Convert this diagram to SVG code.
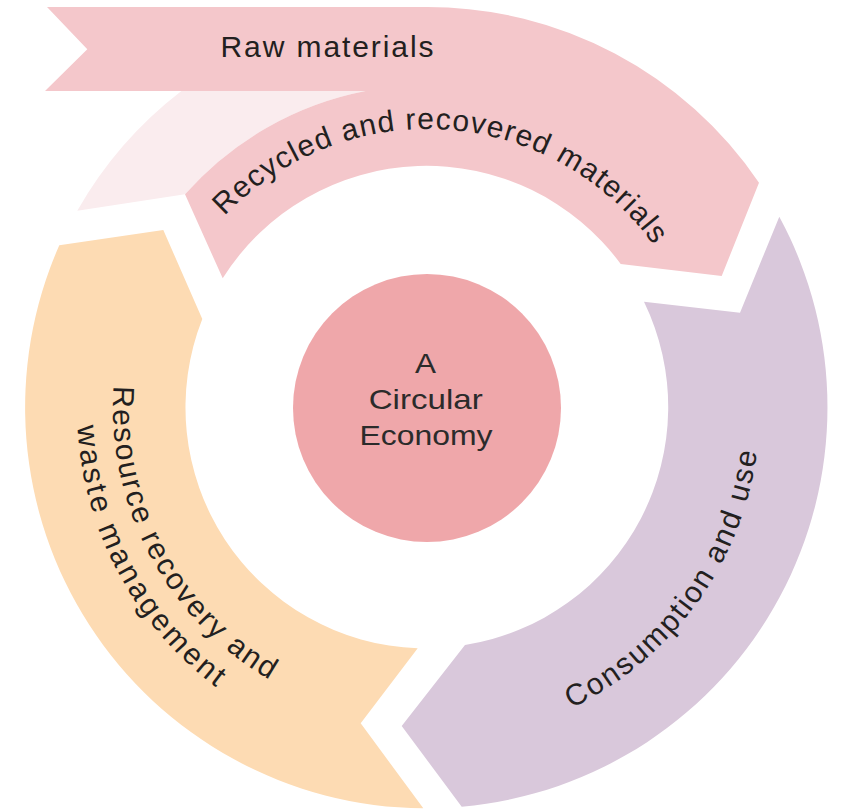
<svg xmlns="http://www.w3.org/2000/svg" width="841" height="809" viewBox="0 0 841 809">
<style>
.lbl{font-family:"Liberation Sans",Arial,sans-serif;font-size:30px;fill:#231f20}
.ctr{font-family:"Liberation Sans",Arial,sans-serif;font-size:28px;fill:#2b2b2b;text-anchor:middle}
</style>
<defs>
<path id="tp-pink" d="M198.5,248 A279,279 0 0 1 701.8,359.6"/>
<path id="tp-purple" d="M513.2,729.7 A333,333 0 0 0 758.7,379"/>
<path id="tp-orange1" d="M123.7,326.7 A314,314 0 0 0 345.7,711.3"/>
<path id="tp-orange2" d="M82.3,347.2 A350,350 0 0 0 307.3,736.9"/>
</defs>
<rect width="841" height="809" fill="#ffffff"/>
<g id="raw-faded">
<path d="M77.3,210.7 A401,401 0 0 1 181.4,91 L365.6,91 A322.9,322.9 0 0 0 185,194.3 Z" fill="#faecee"/>
</g>
<g id="recycled">
<path d="M47,7 L427,7 A401,401 0 0 1 759,182.7 L721.7,276 L620.7,264 A241,241 0 0 0 222.7,278.3 L185,194.3 A322.9,322.9 0 0 1 365.6,91 L45,91 L87.3,49.3 Z" fill="#f4c7cb"/>
<text class="lbl" x="220.5" y="57" textLength="213" lengthAdjust="spacing">Raw materials</text>
<text class="lbl" letter-spacing="1.2"><textPath href="#tp-pink" startOffset="41">Recycled and recovered materials</textPath></text>
</g>
<g id="consumption">
<path d="M779.3,216.7 A401,401 0 0 1 461.7,806.7 L401.7,726 L465,645 A241,241 0 0 0 644,301.7 L740,312.7 Z" fill="#d9c8db"/>
<text class="lbl" letter-spacing="2.1"><textPath href="#tp-purple" startOffset="62">Consumption and use</textPath></text>
</g>
<g id="resource">
<path d="M423.3,808.3 A401,401 0 0 1 59.3,245.3 L163.3,230 L202.3,319 A241,241 0 0 0 417.7,648.3 L360.7,723.3 Z" fill="#fddbb3"/>
<text class="lbl" letter-spacing="2"><textPath href="#tp-orange1" startOffset="60">Resource recovery and</textPath></text>
<text class="lbl" letter-spacing="2.9"><textPath href="#tp-orange2" startOffset="79">waste management</textPath></text>
</g>
<g id="center">
<circle cx="427" cy="408" r="134" fill="#efa7aa"/>
<text class="ctr" x="425.5" y="373" textLength="21" lengthAdjust="spacingAndGlyphs">A</text>
<text class="ctr" x="425.7" y="409" textLength="114" lengthAdjust="spacingAndGlyphs">Circular</text>
<text class="ctr" x="426" y="445" textLength="133" lengthAdjust="spacingAndGlyphs">Economy</text>
</g>
<g id="connectors"></g>
</svg>
